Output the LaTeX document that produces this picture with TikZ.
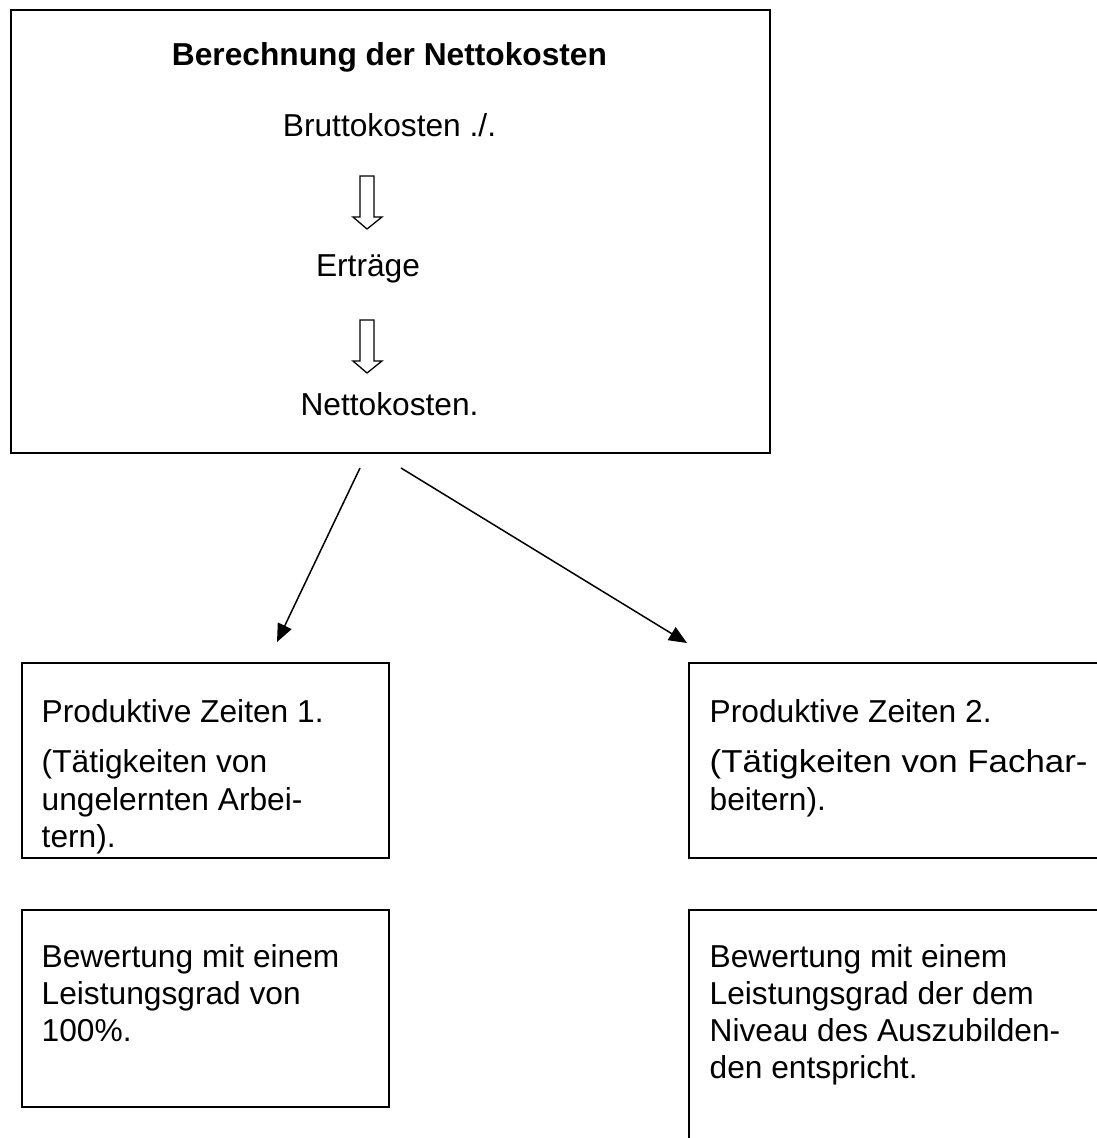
\documentclass[tikz,border=0pt]{standalone}
\usepackage{fontspec}
\usepackage{graphicx}
\setmainfont{Liberation Sans}
\usetikzlibrary{arrows.meta}
\begin{document}
\begin{tikzpicture}[x=1pt,y=-1pt,
  frame/.style={draw, line width=1.6pt, inner sep=0pt, anchor=north west},
  txt/.style={anchor=base west, inner sep=0pt, font=\fontsize{31.7}{37.5}\selectfont},
  ctxt/.style={anchor=base, inner sep=0pt, font=\fontsize{31.7}{37.5}\selectfont},
  hollow/.style={draw, line width=1.3pt, line join=miter, fill=white},
  link/.style={line width=1.5pt, -{Triangle[length=18pt,width=15pt]}}]

% page area
\clip (0,0) rectangle (1097,1138);
\fill[white] (0,0) rectangle (1097,1138);

% upper box: net cost calculation
\node[frame, minimum width=759pt, minimum height=443pt] (calc) at (10,9) {};
\node[ctxt, font=\fontsize{31.7}{37.5}\selectfont\bfseries] (title) at (389.5,65) {Berechnung der Nettokosten};
\node[ctxt] (brutto) at (389.5,136) {Bruttokosten ./.};
\node[ctxt] (ertrag) at (368,276) {Erträge};
\node[ctxt] (netto) at (389.5,415) {Nettokosten.};

% hollow down arrows
\draw[hollow] (360,176) -- (374,176) -- (374,217) -- (382,217) -- (367,229)
  -- (353,217) -- (360,217) -- cycle;
\draw[hollow] (360,320) -- (374,320) -- (374,361) -- (382,361) -- (367,373)
  -- (353,361) -- (360,361) -- cycle;

% lower boxes
\node[frame, minimum width=367pt, minimum height=195pt] (pz1) at (21,662) {};
\node[frame, minimum width=430pt, minimum height=195pt] (pz2) at (688,662) {};
\node[frame, minimum width=367pt, minimum height=197pt] (bw1) at (21,909) {};
\node[frame, minimum width=430pt, minimum height=260pt] (bw2) at (688,909) {};

% texts of the lower boxes
\node[txt] (pz1a) at (41.5,722) {Produktive Zeiten 1.};
\node[txt] (pz1b) at (41.5,772) {(Tätigkeiten von};
\node[txt] (pz1c) at (41.5,810) {ungelernten Arbei-};
\node[txt] (pz1d) at (41.5,847) {tern).};

\node[txt] (pz2a) at (709.5,722) {Produktive Zeiten 2.};
\node[txt] (pz2b) at (709.5,772) {\scalebox{1.1}[1]{(Tätigkeiten von Fachar-}};
\node[txt] (pz2c) at (709.5,810) {beitern).};

\node[txt] (bw1a) at (41.5,967) {Bewertung mit einem};
\node[txt] (bw1b) at (41.5,1004) {Leistungsgrad von};
\node[txt] (bw1c) at (41.5,1041) {100\%.};

\node[txt] (bw2a) at (709.5,967) {Bewertung mit einem};
\node[txt] (bw2b) at (709.5,1004) {Leistungsgrad der dem};
\node[txt] (bw2c) at (709.5,1041) {Niveau des Auszubilden-};
\node[txt] (bw2d) at (709.5,1078) {den entspricht.};

% connectors
\coordinate (l1s) at (360,468);
\coordinate (l1e) at (277,642);
\coordinate (l2s) at (401,468);
\coordinate (l2e) at (687,643);
\draw[link] (l1s) -- (l1e);
\draw[link] (l2s) -- (l2e);
\end{tikzpicture}
\end{document}
